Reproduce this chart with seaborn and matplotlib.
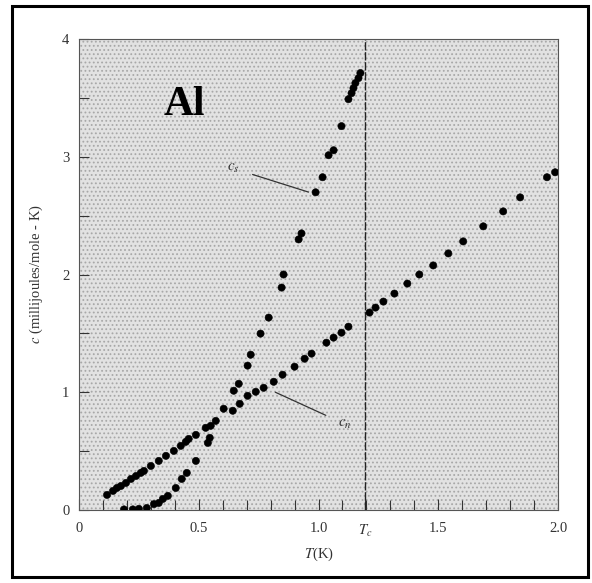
import numpy as np
import pandas as pd
import matplotlib
matplotlib.use("Agg")
import matplotlib.pyplot as plt
from matplotlib.patches import Rectangle
import seaborn as sns

# ---- data ----
T_normal = [0.117, 0.142, 0.158, 0.175, 0.196, 0.217, 0.238, 0.258, 0.271, 0.300,
            0.333, 0.363, 0.396, 0.425, 0.446, 0.458, 0.488, 0.529, 0.550, 0.571,
            0.642, 0.671, 0.704, 0.738, 0.771, 0.813, 0.850, 0.900, 0.942, 0.971,
            1.033, 1.063, 1.096, 1.125, 1.213, 1.238, 1.271, 1.317, 1.371, 1.421,
            1.479, 1.542, 1.604, 1.688, 1.771, 1.842, 1.954, 1.988]
c_normal = [0.128, 0.162, 0.187, 0.204, 0.230, 0.264, 0.289, 0.315, 0.332, 0.374,
            0.417, 0.460, 0.502, 0.545, 0.579, 0.604, 0.638, 0.698, 0.715, 0.757,
            0.843, 0.902, 0.970, 1.004, 1.038, 1.089, 1.149, 1.217, 1.285, 1.328,
            1.421, 1.464, 1.506, 1.557, 1.677, 1.719, 1.770, 1.838, 1.923, 2.000,
            2.077, 2.179, 2.281, 2.409, 2.536, 2.655, 2.826, 2.868]

T_super = [0.188, 0.225, 0.250, 0.283, 0.313, 0.333, 0.350, 0.371, 0.404, 0.429,
           0.450, 0.488, 0.538, 0.546, 0.604, 0.646, 0.667, 0.704, 0.717, 0.758,
           0.792, 0.846, 0.854, 0.917, 0.929, 0.988, 1.017, 1.042, 1.063, 1.096,
           1.125, 1.138, 1.146, 1.154, 1.167, 1.175]
c_super = [0.005, 0.005, 0.010, 0.017, 0.050, 0.060, 0.094, 0.120, 0.187, 0.264,
           0.315, 0.417, 0.570, 0.613, 0.860, 1.013, 1.072, 1.226, 1.319, 1.498,
           1.634, 1.889, 2.000, 2.298, 2.349, 2.698, 2.826, 3.013, 3.055, 3.260,
           3.489, 3.540, 3.583, 3.626, 3.668, 3.711]

T_c = 1.196
x_tick_pos = [0, 0.5, 1.0, T_c, 1.5, 2.0]
x_tick_labels = ["0", "0.5", "1.0", r"$T_c$", "1.5", "2.0"]
y_tick_pos = [0, 1, 2, 3, 4]
y_tick_labels = ["0", "1", "2", "3", "4"]

df = pd.concat([
    pd.DataFrame({"T": T_normal, "c": c_normal, "state": "normal"}),
    pd.DataFrame({"T": T_super, "c": c_super, "state": "super"}),
], ignore_index=True)

sns.set_style("ticks")
plt.rcParams["font.family"] = ["Liberation Serif", "DejaVu Serif"]
plt.rcParams["mathtext.fontset"] = "stix"
plt.rcParams["hatch.linewidth"] = 0.8

fig = plt.figure(figsize=(5.92, 5.83), dpi=100)
ax = fig.add_axes([79 / 592, 1 - 510 / 583, (558 - 79) / 592, (510 - 39) / 583])

ax.set_facecolor("#e2e2e2")
ax.add_patch(Rectangle((0, 0), 1, 1, transform=ax.transAxes, facecolor="none",
                       edgecolor="#a8a8a8", hatch="....", lw=0, zorder=0))

sns.scatterplot(data=df, x="T", y="c", hue="state",
                palette={"normal": "black", "super": "black"},
                s=27, edgecolor="black", linewidth=0.4, legend=False, ax=ax, zorder=3)

ax.axvline(T_c, color="#222222", lw=1.0, ls=(0, (6, 1.2)), zorder=2)

ax.set_xlim(0, 2.0)
ax.set_ylim(0, 4)
ax.set_xticks(x_tick_pos)
ax.set_xticklabels(x_tick_labels)
ax.set_xticks(np.arange(0, 2.01, 0.1), minor=True)
ax.set_yticks(y_tick_pos)
ax.set_yticklabels(y_tick_labels)
ax.set_yticks(np.arange(0, 4.01, 0.5), minor=True)
ax.tick_params(axis="both", which="both", direction="in", color="#333333", width=0.8)
ax.tick_params(axis="x", which="major", length=8, pad=9, labelsize=10.5, colors="#333333")
ax.tick_params(axis="x", which="minor", length=7)
ax.tick_params(axis="y", which="major", length=7, pad=7, labelsize=10.5, colors="#333333")
ax.tick_params(axis="y", which="minor", length=7)
for sp in ax.spines.values():
    sp.set_color("#555555")
    sp.set_linewidth(0.8)

ax.set_xlabel(r"$T$(K)", fontsize=10.5, color="#333333", labelpad=5)
ax.set_ylabel(r"$c$ (millijoules/mole - K)", fontsize=10.5, color="#333333", labelpad=12)

ax.text(0.44, 3.44, "Al", fontsize=30, fontweight="bold", ha="center", va="center",
        color="black", zorder=4)

ax.annotate(r"$c_s$", xy=(0.958, 2.70), xytext=(0.646, 2.90), fontsize=11,
            ha="center", va="center", color="#333333",
            arrowprops=dict(arrowstyle="-", color="#333333", lw=0.9, shrinkA=7, shrinkB=0))
ax.annotate(r"$c_n$", xy=(0.82, 1.0), xytext=(1.11, 0.73), fontsize=11,
            ha="center", va="center", color="#333333",
            arrowprops=dict(arrowstyle="-", color="#333333", lw=0.9, shrinkA=7, shrinkB=0))

fig.patches.append(Rectangle((12 / 592, 1 - 577 / 583), (588 - 12) / 592, (577 - 6) / 583,
                             transform=fig.transFigure, fill=False, edgecolor="black",
                             lw=2.2, zorder=10))

fig.savefig("out.png", dpi=100, facecolor="white")
